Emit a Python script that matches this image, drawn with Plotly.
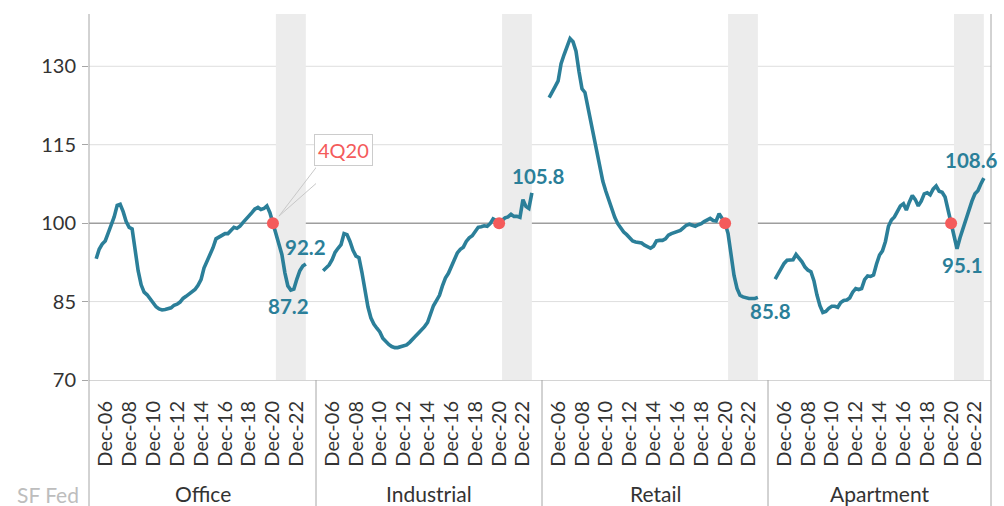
import pandas as pd
import plotly.graph_objects as go

# ---------------- data ----------------
quarters = pd.date_range("2006-03-31", periods=71, freq="QE")  # 1Q06 .. 3Q23

office = [93.2, 95.0, 96.0, 96.6, 98.1, 99.7, 101.2, 103.4, 103.6, 102.2,
          100.3, 99.2, 98.9, 94.9, 90.9, 88.2, 86.8, 86.3, 85.6, 84.9,
          84.0, 83.6, 83.4, 83.5, 83.7, 83.8, 84.3, 84.5, 84.9, 85.6,
          86.0, 86.4, 86.9, 87.3, 88.1, 89.2, 91.4, 92.6, 93.7, 95.3,
          97.0, 97.4, 97.8, 98.0, 98.0, 98.7, 99.2, 99.0, 99.4, 100.1,
          100.7, 101.2, 102.0, 102.7, 103.0, 102.6, 102.8, 103.3, 102.0, 100.0,
          98.0, 96.0, 94.0, 90.5, 88.0, 87.2, 87.4, 89.3, 90.9, 91.8,
          92.2]

industrial = [90.9, 91.4, 92.0, 93.0, 94.4, 95.2, 95.9, 98.0, 97.8, 96.5,
              94.8, 93.7, 93.4, 90.6, 87.0, 84.0, 81.9, 80.7, 79.9, 79.2,
              78.0, 77.3, 76.8, 76.4, 76.2, 76.2, 76.4, 76.5, 76.7, 77.2,
              77.9, 78.4, 79.0, 79.5, 80.2, 81.0, 82.7, 84.2, 85.2, 86.2,
              88.0, 89.5, 90.4, 91.6, 93.0, 94.3, 95.0, 95.4, 96.5, 97.2,
              97.6, 98.5, 99.2, 99.3, 99.5, 99.4, 99.9, 100.8, 100.5, 100.0,
              100.6, 101.0, 101.2, 101.7, 101.3, 101.3, 101.1, 104.5, 103.2, 102.8,
              105.8]

retail = [124.0, 124.9, 126.1, 127.2, 130.5, 132.2, 133.8, 135.3, 134.7, 132.9,
          129.0, 125.7, 125.0, 122.2, 119.3, 115.8, 112.9, 110.3, 108.0, 106.1,
          104.4, 102.7, 101.1, 99.9, 99.1, 98.3, 97.8, 97.1, 96.6, 96.4,
          96.3, 96.2, 95.8, 95.4, 95.2, 95.6, 96.6, 96.7, 96.7, 97.0,
          97.7, 98.0, 98.2, 98.5, 98.6, 99.1, 99.6, 99.8, 99.6, 99.4,
          99.7, 99.9, 100.3, 100.6, 100.9, 100.5, 100.4, 101.8, 101.0, 100.0,
          98.0, 93.5, 90.0, 87.5, 86.2, 85.9, 85.7, 85.6, 85.6, 85.6,
          85.8]

apartment = [89.3, 90.3, 91.3, 92.3, 92.9, 92.9, 93.0, 94.0, 93.4, 92.6,
             91.6, 91.0, 90.7, 89.0, 86.3, 84.2, 82.9, 83.1, 83.7, 84.1,
             84.1, 83.9, 84.8, 85.2, 85.3, 85.7, 86.8, 87.5, 87.3, 87.5,
             89.2, 89.9, 89.8, 90.1, 92.2, 93.9, 94.7, 96.5, 99.4, 100.6,
             101.2, 102.2, 103.3, 103.7, 102.5, 104.0, 105.3, 104.5, 103.3, 104.2,
             105.6, 105.8, 105.4, 106.5, 107.1, 106.1, 105.9, 105.0, 102.5, 100.0,
             97.5, 95.1, 97.2, 99.0, 100.8, 102.5, 104.2, 105.6, 106.2, 107.5,
             108.6]

panels = ["Office", "Industrial", "Retail", "Apartment"]
series = [office, industrial, retail, apartment]

y_ticks = [70, 85, 100, 115, 130]
y_grid = [85, 115, 130]
x_tick_dates = pd.to_datetime([f"{y}-12-31" for y in range(2006, 2023, 2)])
x_tick_text = [d.strftime("Dec-%y") for d in x_tick_dates]

base_idx = 59            # 4Q20 = 100
band_idx = (60, 70)      # shaded period
# (panel, quarter index, xshift, yshift) for value labels
value_labels = [(0, 70, 0, 17), (0, 65, -2, -16), (1, 70, 7, 17),
                (2, 70, 13, -14), (3, 70, -12, 18), (3, 61, 5, -16)]

# ---------------- style ----------------
TEAL = "#2b7f99"
RED = "#f45b5b"
FONT = "Lato"
AX = "#a6a6a6"
W, H = 1004, 506
ML, MR, MT, MB = 89, 13, 14, 126
PW, PH = W - ML - MR, H - MT - MB
bounds_px = [0, 227, 453, 679, PW]
doms = [[bounds_px[i] / PW, bounds_px[i + 1] / PW] for i in range(4)]
right_pad = [73.4, 73.4, 73.4, 72.4]

def qdate(qf):
    return quarters[0] + pd.Timedelta(days=qf * 91.3125)

def px_to_paper_x(px):
    return (px - ML) / PW

def px_to_paper_y(py):
    return (MT + PH - py) / PH

fig = go.Figure()
shapes = []
annotations = []

# gridlines (drawn as shapes so that the shaded bands can cover them)
for g in y_grid:
    shapes.append(dict(type="line", xref="paper", yref="y", x0=0, x1=1, y0=g, y1=g,
                       line=dict(color="#dedede", width=1), layer="below"))

for i, (name, vals) in enumerate(zip(panels, series)):
    xa = "x" if i == 0 else f"x{i + 1}"
    fig.add_trace(go.Scatter(x=quarters, y=vals, mode="lines", xaxis=xa, yaxis="y",
                             line=dict(color=TEAL, width=3.6), hoverinfo="skip",
                             showlegend=False))
    fig.add_trace(go.Scatter(x=[quarters[base_idx]], y=[vals[base_idx]], mode="markers",
                             xaxis=xa, yaxis="y", marker=dict(color=RED, size=12),
                             hoverinfo="skip", showlegend=False))
    fig.layout[("xaxis" if i == 0 else f"xaxis{i + 1}")] = dict(
        domain=doms[i], anchor="y", type="date",
        range=[qdate(-2.4), qdate(right_pad[i])],
        tickmode="array", tickvals=x_tick_dates, ticktext=x_tick_text,
        tickangle=-90, ticks="", showgrid=False, zeroline=False,
        showline=True, linecolor="#d4d4d4", linewidth=1,
        tickfont=dict(family=FONT, size=20, color="#333333"),
        ticklabelstandoff=12, automargin=False,
    )
    shapes.append(dict(type="rect", xref=xa, yref="y",
                       x0=quarters[band_idx[0]], x1=quarters[band_idx[1]], y0=70, y1=140,
                       fillcolor="#ececec", line=dict(width=0), layer="below"))
    annotations.append(dict(text=name, xref="paper", yref="paper",
                            x=sum(doms[i]) / 2, y=px_to_paper_y(493),
                            showarrow=False, xanchor="center", yanchor="middle",
                            font=dict(family=FONT, size=21, color="#333333")))

# line at 100
shapes.append(dict(type="line", xref="paper", yref="y", x0=0, x1=1, y0=100, y1=100,
                   line=dict(color="#9e9e9e", width=1.5), layer="below"))

# frame lines
ybot = px_to_paper_y(H)
shapes.append(dict(type="line", xref="paper", yref="paper", x0=0, x1=0, y0=ybot, y1=1,
                   line=dict(color=AX, width=1)))
shapes.append(dict(type="line", xref="paper", yref="paper", x0=1, x1=1, y0=ybot, y1=1,
                   line=dict(color=AX, width=1)))
for i in range(1, 4):
    shapes.append(dict(type="line", xref="paper", yref="paper", x0=doms[i][0], x1=doms[i][0],
                       y0=ybot, y1=0, line=dict(color=AX, width=1)))

# value labels
for p, q, dx, dy in value_labels:
    xa = "x" if p == 0 else f"x{p + 1}"
    v = series[p][q]
    annotations.append(dict(text=f"<b>{v:.1f}</b>", x=quarters[q], y=v, xref=xa, yref="y",
                            showarrow=False, xshift=dx, yshift=dy,
                            font=dict(family=FONT, size=20.5, color=TEAL)))

# 4Q20 callout
annotations.append(dict(text="4Q20", x=quarters[base_idx], y=100, xref="x", yref="y",
                        showarrow=True, ax=71, ay=-73, arrowcolor="rgba(0,0,0,0)",
                        bordercolor="#cccccc", borderwidth=1, borderpad=3, bgcolor="white",
                        font=dict(family=FONT, size=20, color=RED)))
shapes.append(dict(type="path", xref="x", yref="y", xsizemode="pixel", ysizemode="pixel",
                   xanchor=quarters[base_idx], yanchor=100,
                   path="M 45,58 L 6,7 L 64,58", line=dict(color="#c8c8c8", width=1)))

# SF Fed
annotations.append(dict(text="SF Fed", xref="paper", yref="paper",
                        x=px_to_paper_x(48), y=px_to_paper_y(494), showarrow=False,
                        xanchor="center", yanchor="middle",
                        font=dict(family=FONT, size=21, color="#bdbdbd")))

fig.update_layout(
    width=W, height=H, margin=dict(l=ML, r=MR, t=MT, b=MB, autoexpand=False),
    paper_bgcolor="white", plot_bgcolor="white",
    yaxis=dict(range=[70, 140], tickvals=y_ticks, anchor="x", showgrid=False,
               zeroline=False, showline=False,
               ticks="outside", ticklen=6, tickcolor=AX,
               tickfont=dict(family=FONT, size=20, color="#333333"),
               ticklabelstandoff=2, automargin=False),
    shapes=shapes, annotations=annotations, showlegend=False,
)
fig.write_html("out.html", config={"displayModeBar": False},
               post_script="document.body.style.margin='0px';")
